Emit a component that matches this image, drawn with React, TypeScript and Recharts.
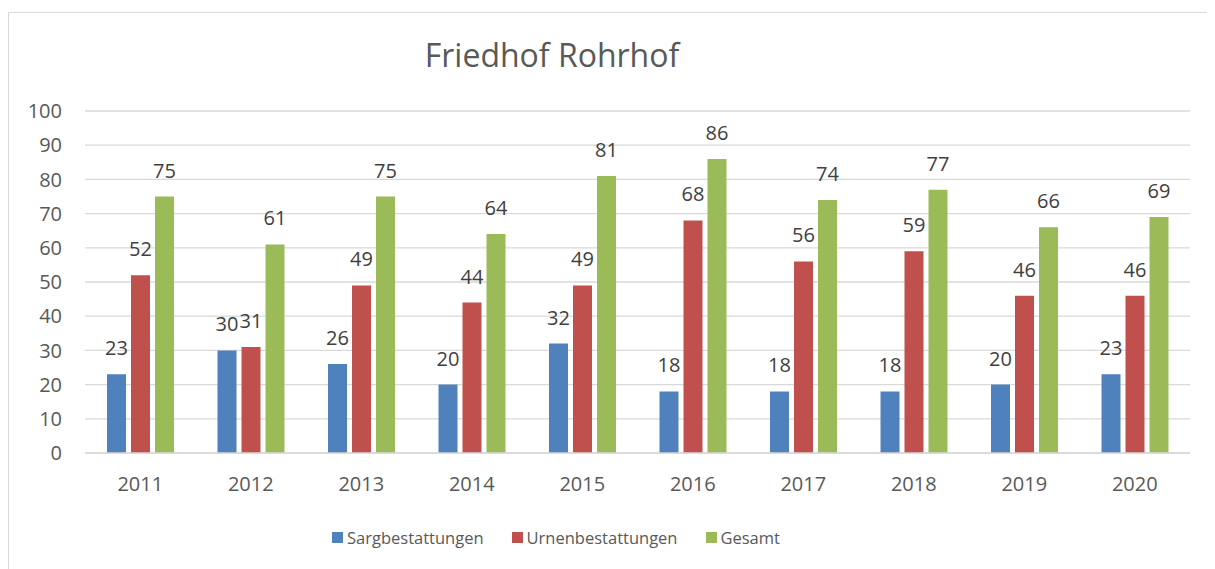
import React from 'react';
import { BarChart, Bar, XAxis, YAxis, CartesianGrid, Legend, LabelList } from 'recharts';

const years = ['2011', '2012', '2013', '2014', '2015', '2016', '2017', '2018', '2019', '2020'];
const sarg = [23, 30, 26, 20, 32, 18, 18, 18, 20, 23];
const urnen = [52, 31, 49, 44, 49, 68, 56, 59, 46, 46];
const gesamt = [75, 61, 75, 64, 81, 86, 74, 77, 66, 69];
const yTicks = [0, 10, 20, 30, 40, 50, 60, 70, 80, 90, 100];
const seriesNames = ['Sargbestattungen', 'Urnenbestattungen', 'Gesamt'];
const seriesColors = ['#4F81BD', '#C0504D', '#9BBB59'];
const title = 'Friedhof Rohrhof';

const data = years.map((y, i) => ({ year: y, Sargbestattungen: sarg[i], Urnenbestattungen: urnen[i], Gesamt: gesamt[i] }));

const FONT = '"Open Sans", "Noto Sans", sans-serif';

const LegendContent = () => (
  <div style={{ display: 'flex', justifyContent: 'center', alignItems: 'center', height: 30, fontFamily: FONT }}>
    {seriesNames.map((name, i) => (
      <div key={name} style={{ display: 'flex', alignItems: 'center', marginLeft: i === 0 ? 0 : 28 }}>
        <div style={{ width: 11, height: 11, background: seriesColors[i], marginRight: 4 }} />
        <span style={{ fontSize: 16.5, color: '#595959' }}>{name}</span>
      </div>
    ))}
  </div>
);

export default function App() {
  return (
    <div style={{ position: 'relative', width: 1207, height: 561, fontFamily: FONT }}>
      <div style={{ position: 'absolute', top: 4, left: 0, width: 1220, height: 570, borderTop: '1px solid #d9d9d9', borderLeft: '1px solid #d9d9d9' }} />
      <div style={{ position: 'absolute', top: 30.6, left: 0, width: 1088, textAlign: 'center', fontSize: 32, lineHeight: '32px', color: '#595959', whiteSpace: 'nowrap' }}>
        {title}
      </div>
      <div style={{ position: 'absolute', top: 0, left: 0 }}>
        <BarChart width={1207} height={561} data={data} margin={{ top: 103, right: 25, left: 17, bottom: 36 }} barSize={19} barGap={5}>
          <CartesianGrid vertical={false} stroke="#d9d9d9" strokeWidth={1.3} />
          <XAxis dataKey="year" height={50} tickLine={false} tickSize={0} tickMargin={24} axisLine={{ stroke: '#d9d9d9', strokeWidth: 1.3 }} tick={{ fill: '#595959', fontSize: 20, fontFamily: FONT }} interval={0} />
          <YAxis width={60} domain={[0, 100]} ticks={yTicks} tickLine={false} tickSize={0} tickMargin={23} axisLine={false} tick={{ fill: '#595959', fontSize: 20, fontFamily: FONT }} interval={0} />
          <Legend verticalAlign="bottom" content={<LegendContent />} wrapperStyle={{ left: 0, width: 1096, top: 514, bottom: 'auto', height: 30 }} />
          {seriesNames.map((name, i) => (
            <Bar key={name} dataKey={name} name={name} fill={seriesColors[i]} isAnimationActive={false}>
              <LabelList dataKey={name} position="top" offset={19} fill="#404040" fontSize={20} fontFamily={FONT} />
            </Bar>
          ))}
        </BarChart>
      </div>
    </div>
  );
}
